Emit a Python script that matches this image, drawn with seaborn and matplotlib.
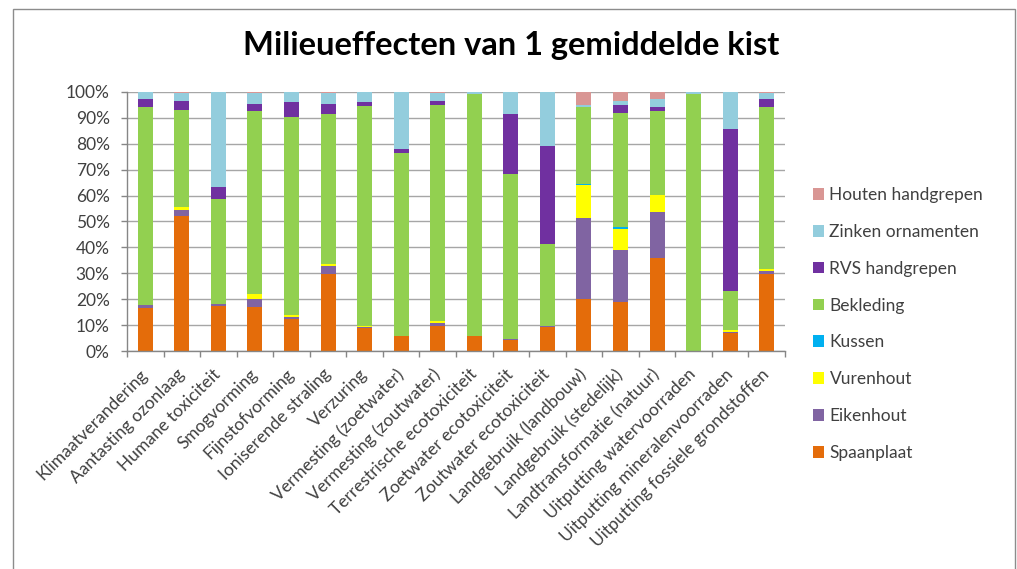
import matplotlib
matplotlib.use("Agg")
import matplotlib.pyplot as plt
import matplotlib.patches as mpatches
import seaborn as sns
import numpy as np
import pandas as pd

categories = [
    "Klimaatverandering", "Aantasting ozonlaag", "Humane toxiciteit", "Smogvorming",
    "Fijnstofvorming", "Ioniserende straling", "Verzuring", "Vermesting (zoetwater)",
    "Vermesting (zoutwater)", "Terrestrische ecotoxiciteit", "Zoetwater ecotoxiciteit",
    "Zoutwater ecotoxiciteit", "Landgebruik (landbouw)", "Landgebruik (stedelijk)",
    "Landtransformatie (natuur)", "Uitputting watervoorraden",
    "Uitputting mineralenvoorraden", "Uitputting fossiele grondstoffen",
]

spaanplaat = [16.7, 52.3, 17.5, 17.1, 12.2, 29.9, 8.7, 5.8, 9.8, 5.8, 4.2, 9.3, 20.2, 19.0, 36.1, 0.0, 6.8, 29.9]
eikenhout  = [0.9, 2.3, 0.5, 3.0, 0.9, 2.9, 0.6, 0.0, 1.0, 0.0, 0.6, 0.5, 31.0, 20.1, 17.4, 0.0, 0.7, 1.1]
vurenhout  = [0.1, 1.1, 0.0, 1.8, 0.8, 0.6, 0.5, 0.0, 0.9, 0.0, 0.0, 0.0, 12.7, 7.9, 6.9, 0.0, 0.6, 0.6]
kussen     = [0.0, 0.0, 0.0, 0.0, 0.0, 0.0, 0.0, 0.0, 0.0, 0.0, 0.0, 0.0, 0.5, 0.8, 0.0, 0.0, 0.0, 0.0]
bekleding  = [76.5, 37.5, 40.6, 70.6, 76.5, 58.2, 84.7, 70.8, 83.3, 93.3, 63.7, 31.7, 29.8, 44.1, 32.1, 99.4, 14.9, 62.6]
rvs        = [3.0, 3.3, 4.6, 3.0, 5.7, 3.9, 1.8, 1.3, 1.5, 0.0, 23.1, 37.8, 0.0, 3.0, 1.7, 0.0, 62.6, 3.0]
zinken     = [2.8, 3.0, 36.8, 4.1, 3.9, 4.1, 3.7, 22.1, 3.1, 0.9, 8.4, 20.7, 0.7, 1.6, 3.0, 0.6, 14.4, 2.4]
houten     = [0.0, 0.5, 0.0, 0.4, 0.0, 0.4, 0.0, 0.0, 0.4, 0.0, 0.0, 0.0, 5.1, 3.5, 2.8, 0.0, 0.0, 0.4]

series_names = ["Spaanplaat", "Eikenhout", "Vurenhout", "Kussen", "Bekleding",
                "RVS handgrepen", "Zinken ornamenten", "Houten handgrepen"]
series_values = [spaanplaat, eikenhout, vurenhout, kussen, bekleding, rvs, zinken, houten]
series_colors = ["#E46C0A", "#8064A2", "#FFFF00", "#00B0F0", "#92D050",
                 "#7030A0", "#93CDDD", "#D99694"]
yticks = [0, 10, 20, 30, 40, 50, 60, 70, 80, 90, 100]
ytick_labels = [f"{v}%" for v in yticks]
title = "Milieueffecten van 1 gemiddelde kist"

sns.set_style("white")
plt.rcParams["font.family"] = ["Lato", "DejaVu Sans"]
text_color = "#404040"

W, H = 1017, 569
fig = plt.figure(figsize=(W / 100, H / 100), dpi=100)
ax = fig.add_axes([127 / W, 1 - 351 / H, (785 - 127) / W, (351 - 92) / H])

bottom = np.zeros(len(categories))
for name, vals, col in zip(series_names, series_values, series_colors):
    vals = np.array(vals, dtype=float)
    sns.barplot(x=categories, y=vals, order=categories, color=col, width=0.41,
                bottom=bottom, ax=ax, linewidth=0, saturation=1, errorbar=None)
    bottom = bottom + vals

ax.set_ylim(0, 100)
ax.set_xlim(-0.5, len(categories) - 0.5)
ax.set_yticks(yticks)
ax.set_yticklabels(ytick_labels)
ax.yaxis.grid(True, color="#a6a6a6", linewidth=1)
ax.set_axisbelow(True)
for s in ["top", "right"]:
    ax.spines[s].set_visible(False)
for s in ["left", "bottom"]:
    ax.spines[s].set_color("#868686")
    ax.spines[s].set_linewidth(1)

ax.tick_params(axis="y", length=4.5, width=1, color="#868686", pad=8,
               labelsize=12.5, labelcolor=text_color, left=True)
ax.set_xticks(np.arange(len(categories)))
ax.set_xticklabels(categories, rotation=45, ha="right", va="center",
                   rotation_mode="anchor", fontsize=12.5, color=text_color)
ax.tick_params(axis="x", which="major", length=0, pad=15)
ax.set_xticks(np.arange(len(categories) + 1) - 0.5, minor=True)
ax.tick_params(axis="x", which="minor", length=4.5, width=1, color="#868686", bottom=True)
ax.set_xlabel("")
ax.set_ylabel("")

fig.text(511 / W, 1 - 45 / H, title, ha="center", va="center",
         fontsize=23.5, fontweight="bold", color="black")

handles = [mpatches.Patch(facecolor=c, edgecolor="none") for c in series_colors][::-1]
labels = series_names[::-1]
fig.legend(handles, labels, loc="upper left", bbox_to_anchor=(813 / W, 1 - 187 / H),
           frameon=False, fontsize=12.5, handlelength=0.65, handleheight=0.65,
           handletextpad=0.3, labelspacing=1.2, borderaxespad=0, borderpad=0,
           labelcolor=text_color)

border = mpatches.Rectangle((13 / W, -0.05), (1015 - 13) / W, (1 - 9 / H) + 0.05,
                            transform=fig.transFigure, fill=False,
                            edgecolor="#8c8c8c", linewidth=1, clip_on=False)
fig.patches.append(border)

fig.savefig("out.png", dpi=100)
